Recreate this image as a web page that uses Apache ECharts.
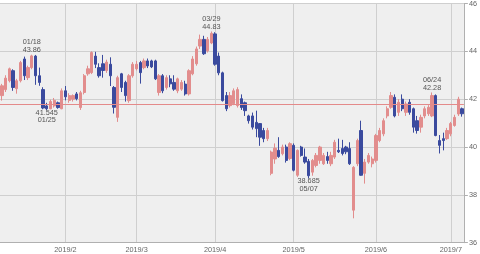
<!DOCTYPE html>
<html>
<head>
<meta charset="utf-8">
<script src="https://cdn.jsdelivr.net/npm/echarts@6/dist/echarts.min.js"></script>
<style>
html,body{margin:0;padding:0;background:#fff;}
#chart{width:480px;height:254px;}
</style>
</head>
<body>
<div id="chart"></div>
<script>
// Trading days shown (category axis)
const dates = [
  '2019/01/08','2019/01/09','2019/01/10','2019/01/11','2019/01/14','2019/01/15','2019/01/16','2019/01/17','2019/01/18','2019/01/22','2019/01/23','2019/01/24','2019/01/25','2019/01/28','2019/01/29','2019/01/30','2019/01/31',
  '2019/02/01','2019/02/04','2019/02/05','2019/02/06','2019/02/07','2019/02/08','2019/02/11','2019/02/12','2019/02/13','2019/02/14','2019/02/15','2019/02/19','2019/02/20','2019/02/21','2019/02/22','2019/02/25','2019/02/26','2019/02/27','2019/02/28',
  '2019/03/01','2019/03/04','2019/03/05','2019/03/06','2019/03/07','2019/03/08','2019/03/11','2019/03/12','2019/03/13','2019/03/14','2019/03/15','2019/03/18','2019/03/19','2019/03/20','2019/03/21','2019/03/22','2019/03/25','2019/03/26','2019/03/27','2019/03/28','2019/03/29',
  '2019/04/01','2019/04/02','2019/04/03','2019/04/04','2019/04/05','2019/04/08','2019/04/09','2019/04/10','2019/04/11','2019/04/12','2019/04/15','2019/04/16','2019/04/17','2019/04/18','2019/04/22','2019/04/23','2019/04/24','2019/04/25','2019/04/26','2019/04/29','2019/04/30',
  '2019/05/01','2019/05/02','2019/05/03','2019/05/06','2019/05/07','2019/05/08','2019/05/09','2019/05/10','2019/05/13','2019/05/14','2019/05/15','2019/05/16','2019/05/17','2019/05/20','2019/05/21','2019/05/22','2019/05/23','2019/05/24','2019/05/28','2019/05/29','2019/05/30','2019/05/31',
  '2019/06/03','2019/06/04','2019/06/05','2019/06/06','2019/06/07','2019/06/10','2019/06/11','2019/06/12','2019/06/13','2019/06/14','2019/06/17','2019/06/18','2019/06/19','2019/06/20','2019/06/21','2019/06/24','2019/06/25','2019/06/26','2019/06/27','2019/06/28',
  '2019/07/01','2019/07/02','2019/07/03','2019/07/05'
];

// [open, close, low, high]
const ohlc = [
  [42.15,42.56,41.94,42.64],[42.40,42.88,42.30,43.00],[42.77,43.27,42.70,43.32],[43.19,42.49,42.35,43.25],
  [42.44,42.77,42.23,42.85],[42.77,43.53,42.70,43.60],[43.68,42.98,42.80,43.78],[42.90,43.32,42.80,43.40],
  [43.32,43.81,43.25,43.86],[43.80,42.98,42.60,43.85],[42.98,42.70,42.56,43.32],[42.40,41.63,41.58,42.50],
  [41.72,41.60,41.545,41.85],[41.60,41.90,41.58,41.98],[41.72,41.95,41.65,42.05],[41.85,41.65,41.60,41.90],
  [41.60,42.35,41.58,42.45],[42.35,42.10,41.95,42.55],[41.95,42.15,41.85,42.25],[42.00,42.15,41.90,42.20],
  [42.22,42.02,41.95,42.30],[41.65,42.27,41.55,42.35],[42.28,42.98,42.20,43.05],[43.06,43.27,42.98,43.40],
  [43.11,43.95,43.05,44.00],[43.80,43.46,43.30,43.98],[43.32,42.98,42.90,43.50],[43.48,43.20,42.90,43.85],
  [43.20,43.55,43.10,43.65],[43.46,42.98,42.55,43.75],[42.49,41.66,41.40,42.55],[41.24,42.90,41.05,42.98],
  [43.06,42.49,42.30,43.10],[42.70,42.15,41.90,42.77],[41.94,42.98,41.85,43.05],[42.98,43.46,42.90,43.55],
  [43.27,43.46,43.20,43.60],[43.53,43.11,42.65,43.60],[43.32,43.60,43.25,43.70],[43.60,43.39,43.30,43.70],
  [43.60,43.35,43.30,43.65],[43.60,42.85,42.80,43.65],[42.28,42.98,42.15,43.05],[42.98,42.35,42.25,43.05],
  [42.49,42.90,42.40,43.00],[42.85,42.64,42.50,43.00],[42.70,42.42,42.35,43.00],[42.35,42.85,42.25,42.90],
  [42.42,42.70,42.35,42.80],[42.63,42.22,42.15,42.77],[42.22,43.19,42.15,43.25],[43.06,43.68,43.00,43.80],
  [43.48,44.10,43.40,44.20],[44.22,44.50,44.10,44.70],[44.50,43.90,43.85,44.65],[44.02,44.50,43.95,44.60],
  [44.35,44.75,44.30,44.83],[44.73,43.46,43.40,44.80],[43.80,43.10,43.00,43.95],[43.10,41.94,41.90,43.15],
  [42.15,41.60,41.50,42.30],[41.73,42.15,41.65,42.30],[41.81,42.35,41.75,42.45],[41.73,42.40,41.65,42.50],
  [42.02,41.65,41.55,42.20],[41.85,41.52,41.30,41.90],[41.30,41.10,40.98,41.35],[41.30,40.83,40.73,41.44],
  [41.03,40.77,40.41,41.52],[40.98,40.41,40.05,41.00],[40.69,40.35,40.20,40.80],[40.35,40.69,40.25,40.80],
  [38.90,39.79,38.82,39.85],[39.50,39.95,39.30,40.15],[39.86,39.60,39.55,40.41],[39.72,40.00,39.65,40.10],
  [40.00,39.44,39.35,40.10],[39.52,40.14,39.45,40.20],[40.07,39.03,38.98,40.15],[38.82,39.86,38.75,39.90],
  [40.00,39.65,39.60,40.05],[39.58,39.37,39.30,39.94],[39.40,38.80,38.685,39.50],[38.95,39.44,38.80,39.50],
  [39.23,39.65,39.15,39.75],[39.44,40.00,39.30,40.05],[39.30,39.65,39.25,39.75],[39.60,39.44,39.30,39.80],
  [39.30,39.65,39.20,39.80],[39.58,40.20,39.50,40.30],[39.86,39.80,39.75,40.35],[39.94,39.73,39.65,40.30],
  [40.00,39.80,39.70,40.05],[39.94,39.30,39.25,40.20],[37.36,39.15,37.02,39.20],[39.30,40.27,39.20,40.35],
  [40.69,38.82,38.80,41.10],[38.90,39.37,38.47,39.50],[39.37,39.65,39.30,39.75],[39.30,39.50,39.15,39.60],
  [39.44,40.48,39.35,40.55],[40.27,40.69,40.20,40.80],[40.55,41.10,40.45,41.20],[41.30,41.60,41.20,41.70],
  [41.66,42.15,41.60,42.30],[42.08,41.30,41.24,42.20],[41.45,41.87,41.30,42.00],[42.00,41.60,41.50,42.20],
  [41.45,41.80,41.30,41.90],[41.87,41.45,41.35,42.00],[41.60,40.83,40.60,41.65],[41.10,40.69,40.56,41.30],
  [40.83,41.24,40.60,41.35],[41.30,41.60,41.20,41.70],[41.39,41.66,41.30,41.75],[41.30,42.15,41.25,42.28],
  [42.15,40.48,40.45,42.20],[40.27,40.07,39.73,40.50],[40.35,40.27,39.86,40.60],[40.35,40.69,40.30,40.80],
  [40.55,40.98,40.45,41.05],[40.90,41.24,40.85,41.35],[41.38,42.00,41.30,42.10],[41.60,41.39,41.27,41.65]
];

// Annotated extremes
const highMarks = [['2019/01/18', 43.86, '01/18'], ['2019/03/29', 44.83, '03/29'], ['2019/06/24', 42.28, '06/24']];
const lowMarks = [['2019/01/25', 41.545, '01/25'], ['2019/05/07', 38.685, '05/07']];
const refLine = 41.79;
const yTicks = { min: 36, max: 46, interval: 2 };

const isMonthStart = function (index) {
  return index > 0 && dates[index].slice(5, 7) !== dates[index - 1].slice(5, 7);
};

const markData = [];
highMarks.forEach(function (m) {
  markData.push({ coord: [m[0], m[1]], label: { position: 'top', distance: 1, formatter: m[2] + '\n' + m[1] } });
});
lowMarks.forEach(function (m) {
  markData.push({ coord: [m[0], m[1]], label: { position: 'bottom', distance: -1, formatter: m[1] + '\n' + m[2] } });
});

const chart = echarts.init(document.getElementById('chart'), null, { renderer: 'canvas' });
chart.setOption({
  animation: false,
  backgroundColor: '#ffffff',
  textStyle: { fontFamily: 'Liberation Sans, Arial, sans-serif' },
  grid: { left: 0, right: 13.3, top: 2.3, bottom: 11.3, show: true, backgroundColor: '#efefef', borderWidth: 0 },
  xAxis: {
    type: 'category',
    data: dates,
    boundaryGap: true,
    axisLine: { lineStyle: { color: '#b0b0b0', width: 1 } },
    axisTick: { show: false },
    axisLabel: {
      interval: isMonthStart,
      fontSize: 7.3,
      color: '#666',
      margin: 4,
      formatter: function (v) { return '2019/' + parseInt(v.slice(5, 7), 10); }
    },
    splitLine: { show: true, interval: isMonthStart, alignWithLabel: true, lineStyle: { color: '#cfcfcf', width: 1 } }
  },
  yAxis: {
    type: 'value',
    position: 'right',
    min: yTicks.min,
    max: yTicks.max,
    interval: yTicks.interval,
    axisLine: { show: true, lineStyle: { color: '#b0b0b0', width: 1 } },
    axisTick: { show: true, length: 4, lineStyle: { color: '#b0b0b0' } },
    axisLabel: { fontSize: 7.3, color: '#666', margin: 5 },
    splitLine: { show: true, lineStyle: { color: '#cfcfcf', width: 1 } }
  },
  series: [{
    type: 'candlestick',
    data: ohlc,
    barWidth: 2.8,
    itemStyle: {
      color: '#e28d8d', color0: '#3a4a9e',
      borderColor: '#e28d8d', borderColor0: '#3a4a9e',
      borderWidth: 1
    },
    markLine: {
      silent: true,
      symbol: 'none',
      label: { show: false },
      lineStyle: { color: '#e48a8a', width: 1, type: 'solid' },
      data: [{ yAxis: refLine }]
    },
    markPoint: {
      symbol: 'circle',
      symbolSize: 0,
      silent: true,
      label: { show: true, color: '#555', fontSize: 7.3, lineHeight: 7.5 },
      data: markData
    }
  }]
});
</script>
</body>
</html>
